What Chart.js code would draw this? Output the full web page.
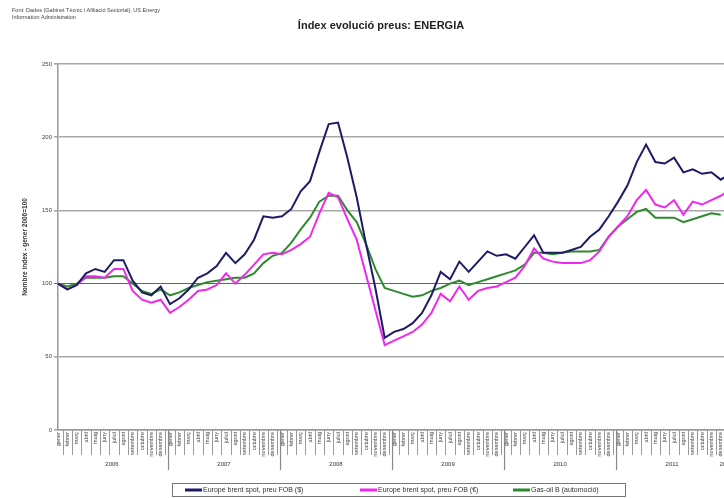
<!DOCTYPE html>
<html>
<head>
<meta charset="utf-8">
<script src="https://cdn.jsdelivr.net/npm/chart.js@4/dist/chart.umd.min.js"></script>
<style>
body { margin: 0; overflow: hidden; background: #fff; width: 724px; height: 498px; }
#wrap { position: relative; width: 748px; height: 498px; }
</style>
</head>
<body>
<div id="wrap"><canvas id="myChart" width="748" height="498"></canvas></div>
<script>
// month names (Catalan) and years on the category axis
var months = ['gener','febrer','març','abril','maig','juny','juliol','agost','setembre','octubre','novembre','desembre'];
var years = ['2006','2007','2008','2009','2010','2011','2012'];
var yTicks = [0, 50, 100, 150, 200, 250];

// index, gener 2006 = 100
var brentUsd = [100,96,99,107,110,108,116,116,102,94,92,98,
  86,90,96,104,107,112,121,114,120,130,146,145,
  146,151,163,170,190,209,210,186,159,127,97,63,
  67,69,73,80,92,108,103,115,108,115,122,119,
  120,117,125,133,121,121,121,123,125,132,137,146,
  156,167,183,195,183,182,186,176,178,175,176,171,
  175,null];
var brentEur = [100,96,99,105,105,104,110,110,95,89,87,89,
  80,84,89,95,96,99,107,100,106,113,120,121,
  120,123,127,132,148,162,159,144,130,106,82,58,
  61,64,67,72,80,93,88,98,89,95,97,98,
  101,104,112,124,117,115,114,114,114,116,122,132,
  139,146,157,164,154,152,157,147,156,154,157,160,
  164,null];
var gasoil = [100,98,100,104,104,104,105,105,100,95,93,96,
  92,94,97,99,101,102,103,104,104,107,114,119,
  121,128,137,145,156,160,160,150,142,127,110,97,
  95,93,91,92,95,97,100,102,99,101,103,105,
  107,109,113,121,121,120,121,122,122,122,123,132,
  139,144,149,151,145,145,145,142,144,146,148,147,
  null,null];

var seriesNames = ['Europe brent spot, preu FOB ($)', 'Europe brent spot, preu FOB (€)', 'Gas-oil B (automoció)'];
var seriesColors = ['#1d1b66', '#f028ee', '#2f8a2f'];
var titleText = 'Índex evolució preus: ENERGIA';
var sourceLines = ['Font: Dades (Gabinet Tècnic i Afiliació Sectorial), US Energy', 'Information Administration'];
var yTitle = 'Nombre índex - gener 2006=100';

var labels = [];
for (var i = 0; i < brentUsd.length; i++) {
  labels.push(months[i % 12] + ' ' + years[Math.floor(i / 12)]);
}

var FONT = '"Liberation Sans", Arial, sans-serif';

var extras = {
  id: 'extras',
  afterDraw: function(chart) {
    var ctx = chart.ctx, xs = chart.scales.x, area = chart.chartArea;
    var step = xs.getPixelForValue(1) - xs.getPixelForValue(0);
    ctx.save();
    ctx.fillStyle = '#222';
    ctx.font = 'bold 11px ' + FONT;
    ctx.textAlign = 'center';
    ctx.textBaseline = 'middle';
    ctx.fillText(titleText, 381, 26);

    ctx.fillStyle = '#444';
    ctx.font = '5.5px ' + FONT;
    ctx.textAlign = 'left';
    ctx.fillText(sourceLines[0], 12, 10);
    ctx.fillText(sourceLines[1], 12, 17);

    // y axis title
    ctx.save();
    ctx.translate(25, 247);
    ctx.rotate(-Math.PI / 2);
    ctx.font = 'bold 6.5px ' + FONT;
    ctx.textAlign = 'center';
    ctx.fillStyle = '#333';
    ctx.fillText(yTitle, 0, 0);
    ctx.restore();

    // month and year separators under the axis
    ctx.strokeStyle = '#999';
    ctx.lineWidth = 1;
    for (var i = 0; i < labels.length; i++) {
      var x = Math.round(xs.getPixelForValue(i) + step / 2) + 0.5;
      ctx.beginPath();
      ctx.moveTo(x, area.bottom);
      ctx.lineTo(x, area.bottom + 25);
      ctx.stroke();
    }
    ctx.strokeStyle = '#888';
    ctx.lineWidth = 1.2;
    ctx.fillStyle = '#333';
    ctx.font = '6px ' + FONT;
    ctx.textAlign = 'center';
    for (var k = 0; k < years.length; k++) {
      var xa = xs.getPixelForValue(12 * k);
      if (k > 0) {
        ctx.beginPath();
        ctx.moveTo(xa - 1.5, area.bottom);
        ctx.lineTo(xa - 1.5, area.bottom + 40);
        ctx.stroke();
      }
      var cx = k < years.length - 1 ? xa + 6 * step - 2 : xa - 4;
      ctx.fillText(years[k], cx, area.bottom + 34);
    }

    // legend box
    ctx.strokeStyle = '#777';
    ctx.lineWidth = 1;
    ctx.strokeRect(172.5, 483.5, 453, 13);
    var lx = [185, 360, 513];
    ctx.font = '7px ' + FONT;
    ctx.textAlign = 'left';
    for (var j = 0; j < 3; j++) {
      ctx.strokeStyle = seriesColors[j];
      ctx.lineWidth = 3;
      ctx.beginPath();
      ctx.moveTo(lx[j], 490);
      ctx.lineTo(lx[j] + 17, 490);
      ctx.stroke();
      ctx.fillStyle = '#333';
      ctx.fillText(seriesNames[j], lx[j] + 18, 490.5);
    }
    ctx.restore();
  }
};

var ctx = document.getElementById('myChart').getContext('2d');
var chart = new Chart(ctx, {
  type: 'line',
  data: {
    labels: labels,
    datasets: [
      { label: seriesNames[0], data: brentUsd, borderColor: seriesColors[0], backgroundColor: seriesColors[0] },
      { label: seriesNames[1], data: brentEur, borderColor: seriesColors[1], backgroundColor: seriesColors[1] },
      { label: seriesNames[2], data: gasoil, borderColor: seriesColors[2], backgroundColor: seriesColors[2] }
    ]
  },
  options: {
    responsive: false,
    animation: false,
    layout: { padding: { top: 64, right: 4, left: 0, bottom: 0 } },
    elements: {
      line: { borderWidth: 2, tension: 0 },
      point: { radius: 0 }
    },
    plugins: {
      legend: { display: false },
      title: { display: false },
      tooltip: { enabled: false }
    },
    scales: {
      x: {
        offset: false,
        grid: { display: false, drawTicks: false },
        border: { display: true, color: '#999', width: 1.5 },
        ticks: {
          autoSkip: false,
          minRotation: 90,
          maxRotation: 90,
          padding: 2,
          color: '#444',
          font: { family: FONT, size: 5.5 },
          callback: function(v, i) { return months[i % 12]; }
        },
        afterFit: function(scale) { scale.height = 68; }
      },
      y: {
        min: 0,
        max: 250,
        afterBuildTicks: function(scale) {
          scale.ticks = yTicks.map(function(v) { return { value: v }; });
        },
        grid: {
          color: function(c) { return c.tick && c.tick.value === 100 ? '#6b6060' : '#a8a8a8'; },
          lineWidth: function(c) { return c.tick && c.tick.value === 100 ? 1 : 1.6; },
          tickLength: 4
        },
        border: { display: true, color: '#999', width: 1.5 },
        ticks: {
          padding: 2,
          color: '#444',
          font: { family: FONT, size: 6 }
        },
        afterFit: function(scale) { scale.width = 58; }
      }
    }
  },
  plugins: [extras]
});
</script>
</body>
</html>
